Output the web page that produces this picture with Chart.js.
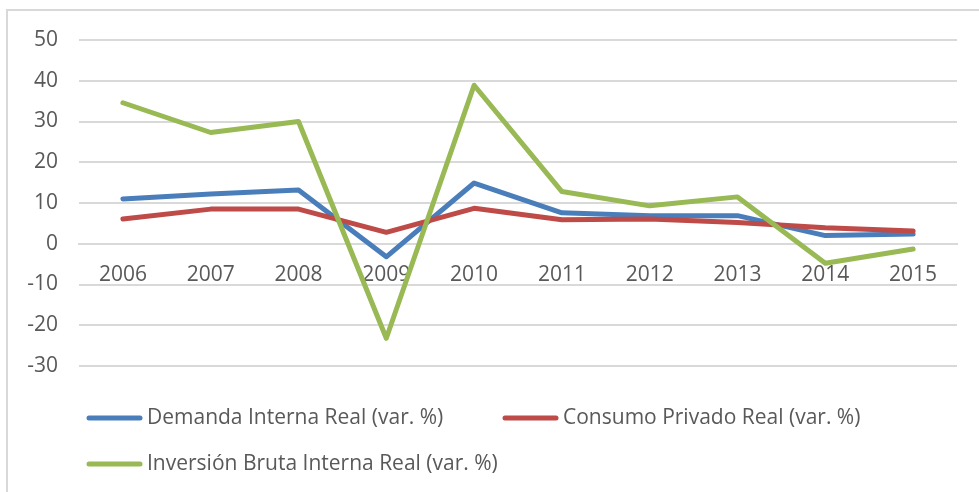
<!DOCTYPE html>
<html>
<head>
<meta charset="utf-8">
<script src="https://cdn.jsdelivr.net/npm/chart.js@4"></script>
<style>
  html, body { margin: 0; padding: 0; background: #ffffff; }
  #wrap { position: relative; width: 979px; height: 492px; }
  canvas { display: block; }
</style>
</head>
<body>
<div id="wrap"><canvas id="c" width="979" height="492"></canvas></div>
<script>
const years = ['2006','2007','2008','2009','2010','2011','2012','2013','2014','2015'];
const demandaInterna = [11.0, 12.2, 13.2, -3.2, 14.9, 7.6, 6.9, 6.9, 2.0, 2.4];
const consumoPrivado = [6.1, 8.5, 8.5, 2.8, 8.7, 5.9, 6.1, 5.2, 3.9, 3.1];
const inversionBruta = [34.6, 27.3, 30.0, -23.2, 38.9, 12.8, 9.3, 11.5, -4.8, -1.3];
const seriesNames = ['Demanda Interna Real (var. %)', 'Consumo Privado Real (var. %)', 'Inversión Bruta Interna Real (var. %)'];
const yMin = -30, yMax = 50, yStep = 10;

const FONT = "'Open Sans', 'Liberation Sans', sans-serif";
const TEXT = '#595959';
const GRID = '#d9d9d9';

const frame = {
  id: 'frame',
  beforeDraw(chart) {
    const ctx = chart.ctx;
    ctx.save();
    ctx.fillStyle = '#ffffff';
    ctx.fillRect(0, 0, chart.width, chart.height);
    ctx.strokeStyle = GRID;
    ctx.lineWidth = 2;
    ctx.beginPath();
    ctx.moveTo(7, chart.height + 2);
    ctx.lineTo(7, 10);
    ctx.lineTo(chart.width + 2, 10);
    ctx.stroke();
    ctx.restore();
  }
};

const legendSlots = [[87, 418], [503, 418], [87, 464]];
const customLegend = {
  id: 'customLegend',
  afterDraw(chart) {
    const ctx = chart.ctx;
    ctx.save();
    ctx.font = '21px ' + FONT;
    ctx.textBaseline = 'middle';
    ctx.textAlign = 'left';
    chart.data.datasets.forEach((ds, i) => {
      const [x, y] = legendSlots[i];
      ctx.strokeStyle = ds.borderColor;
      ctx.lineWidth = 5;
      ctx.lineCap = 'round';
      ctx.beginPath();
      ctx.moveTo(x + 2, y);
      ctx.lineTo(x + 53, y);
      ctx.stroke();
      ctx.fillStyle = TEXT;
      ctx.fillText(ds.label, x + 60, y);
    });
    ctx.restore();
  }
};

const lineStyle = {
  borderWidth: 5,
  pointRadius: 0,
  pointHoverRadius: 0,
  tension: 0,
  fill: false,
  borderCapStyle: 'round',
  borderJoinStyle: 'round'
};

new Chart(document.getElementById('c'), {
  type: 'line',
  data: {
    labels: years,
    datasets: [
      Object.assign({ label: seriesNames[0], data: demandaInterna, borderColor: '#4a7ebb', backgroundColor: '#4a7ebb', order: 2 }, lineStyle),
      Object.assign({ label: seriesNames[1], data: consumoPrivado, borderColor: '#be4b48', backgroundColor: '#be4b48', order: 1 }, lineStyle),
      Object.assign({ label: seriesNames[2], data: inversionBruta, borderColor: '#98b954', backgroundColor: '#98b954', order: 0 }, lineStyle)
    ]
  },
  options: {
    responsive: false,
    animation: false,
    devicePixelRatio: 1,
    layout: { padding: { left: 0, right: 22, top: 40, bottom: 126 } },
    plugins: {
      legend: { display: false },
      tooltip: { enabled: false },
      title: { display: false }
    },
    scales: {
      x: {
        type: 'category',
        offset: true,
        position: { y: 0 },
        grid: { display: false, drawTicks: false },
        border: { display: true, color: GRID, width: 2 },
        ticks: { color: TEXT, font: { family: FONT, size: 21 }, padding: 19, maxRotation: 0, autoSkip: false }
      },
      y: {
        min: yMin,
        max: yMax,
        afterFit(scale) { scale.width = 79; },
        grid: { color: GRID, lineWidth: 2, drawTicks: false },
        border: { display: false },
        ticks: { stepSize: yStep, color: TEXT, font: { family: FONT, size: 21 }, padding: 21 }
      }
    }
  },
  plugins: [frame, customLegend]
});
</script>
</body>
</html>
